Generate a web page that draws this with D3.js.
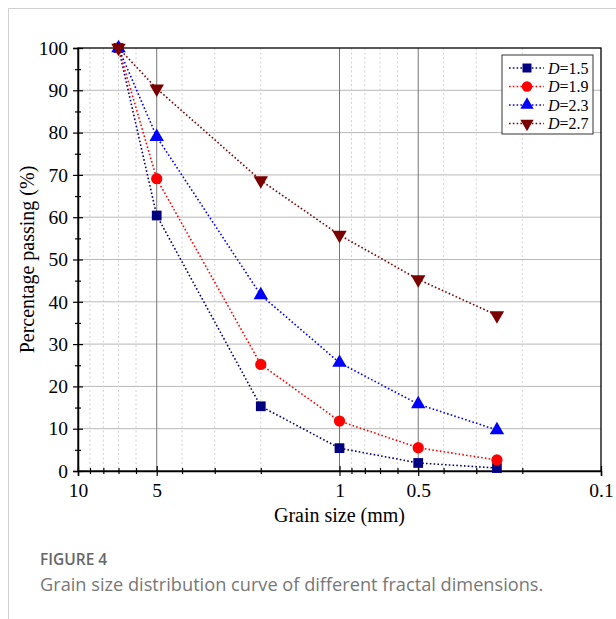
<!DOCTYPE html>
<html>
<head>
<meta charset="utf-8">
<script src="https://cdn.jsdelivr.net/npm/d3@7"></script>
<style>
  body { margin: 0; background: #fff; }
  svg { display: block; }
</style>
</head>
<body>
<svg id="chart" width="616" height="619"></svg>
<script>
// grain sizes (mm) and percentage passing per fractal dimension
var sizes = [7, 5, 2, 1, 0.5, 0.25];
var names = ['D=1.5', 'D=1.9', 'D=2.3', 'D=2.7'];
var pass15 = [100, 60.4, 15.3, 5.4, 1.9, 0.7];
var pass19 = [100, 69.1, 25.2, 11.8, 5.5, 2.6];
var pass23 = [100, 79.0, 41.6, 25.6, 15.8, 9.7];
var pass27 = [100, 90.4, 68.7, 55.8, 45.3, 36.8];
var xTicks = [10, 5, 1, 0.5, 0.1];
var xMinor = [9, 8, 7, 6, 4, 3, 2, 0.9, 0.8, 0.7, 0.6, 0.4, 0.3, 0.2];
var yTicks = [0, 10, 20, 30, 40, 50, 60, 70, 80, 90, 100];

var series = [
  { name: names[0], values: pass15, color: '#000080', symbol: d3.symbolSquare, size: 95, rot: 0 },
  { name: names[1], values: pass19, color: '#ff0000', symbol: d3.symbolCircle, size: 100, rot: 0 },
  { name: names[2], values: pass23, color: '#0000ff', symbol: d3.symbolTriangle, size: 90, rot: 0 },
  { name: names[3], values: pass27, color: '#7a0000', symbol: d3.symbolTriangle, size: 90, rot: 180 }
];

var svg = d3.select('#chart');
var m = { left: 78, right: 601, top: 48, bottom: 471 };
var serif = 'Liberation Serif, Times New Roman, serif';

// page frame lines
svg.append('line').attr('x1', 8.5).attr('x2', 8.5).attr('y1', 8).attr('y2', 619)
  .attr('stroke', '#d0d0d0').attr('stroke-width', 1);
svg.append('line').attr('x1', 8).attr('x2', 616).attr('y1', 8.5).attr('y2', 8.5)
  .attr('stroke', '#d0d0d0').attr('stroke-width', 1);

var x = d3.scaleLog().domain([10, 0.1]).range([m.left, m.right]);
var y = d3.scaleLinear().domain([0, 100]).range([m.bottom, m.top]);

var g = svg.append('g');

// grid
g.selectAll('.gy').data(yTicks.slice(1, -1)).enter().append('line')
  .attr('x1', m.left).attr('x2', m.right)
  .attr('y1', function(d) { return y(d); }).attr('y2', function(d) { return y(d); })
  .attr('stroke', '#b8b8b8').attr('stroke-width', 1);
g.selectAll('.gxm').data(xMinor).enter().append('line')
  .attr('x1', function(d) { return x(d); }).attr('x2', function(d) { return x(d); })
  .attr('y1', m.top).attr('y2', m.bottom)
  .attr('stroke', '#d2d2d2').attr('stroke-width', 1).attr('stroke-dasharray', '2,2.5');
g.selectAll('.gx').data(xTicks.slice(1, -1)).enter().append('line')
  .attr('x1', function(d) { return x(d); }).attr('x2', function(d) { return x(d); })
  .attr('y1', m.top).attr('y2', m.bottom)
  .attr('stroke', '#777').attr('stroke-width', 1);

// frame
g.append('rect').attr('x', m.left).attr('y', m.top)
  .attr('width', m.right - m.left).attr('height', m.bottom - m.top)
  .attr('fill', 'none').attr('stroke', '#000').attr('stroke-width', 1.3);

// axes (ticks cross the axis line)
var xAxis = d3.axisBottom(x).tickValues(xTicks).tickFormat(function(d) { return String(d); })
  .tickSizeOuter(0).tickSize(5).tickPadding(4);
var xa = g.append('g').attr('transform', 'translate(0,' + m.bottom + ')').call(xAxis);
xa.selectAll('.tick line').attr('y1', -5);
var xAxisMinor = d3.axisBottom(x).tickValues(xMinor).tickFormat('').tickSizeOuter(0).tickSize(3);
var xm = g.append('g').attr('transform', 'translate(0,' + m.bottom + ')').call(xAxisMinor);
xm.select('.domain').remove();
xm.selectAll('.tick line').attr('y1', -3);

var yAxis = d3.axisLeft(y).tickValues(yTicks).tickSizeOuter(0).tickSize(5).tickPadding(5);
var ya = g.append('g').attr('transform', 'translate(' + m.left + ',0)').call(yAxis);
ya.selectAll('.tick line').attr('x1', 5);
var yMinor = d3.axisLeft(y).tickValues(d3.range(5, 100, 10)).tickFormat('').tickSizeOuter(0).tickSize(3);
var ym = g.append('g').attr('transform', 'translate(' + m.left + ',0)').call(yMinor);
ym.select('.domain').remove();
ym.selectAll('.tick line').attr('x1', 3);

g.selectAll('.domain').attr('stroke', '#000').attr('stroke-width', 1.5);
g.selectAll('.tick line').attr('stroke', '#000').attr('stroke-width', 1.2);
g.selectAll('.tick text').attr('font-family', serif)
  .attr('font-size', 19.5).attr('fill', '#000');
xa.selectAll('.tick text').attr('dy', '0.85em');

// axis titles
svg.append('text').attr('x', (m.left + m.right) / 2).attr('y', 522)
  .attr('text-anchor', 'middle').attr('font-family', serif)
  .attr('font-size', 20).text('Grain size (mm)');
svg.append('text').attr('transform', 'translate(34,' + ((m.top + m.bottom) / 2) + ') rotate(-90)')
  .attr('text-anchor', 'middle').attr('font-family', serif)
  .attr('font-size', 20).text('Percentage passing (%)');

// lines + markers
var line = d3.line()
  .x(function(d, i) { return x(sizes[i]); })
  .y(function(d) { return y(d); });

series.forEach(function(s) {
  g.append('path').datum(s.values).attr('d', line)
    .attr('fill', 'none').attr('stroke', s.color).attr('stroke-width', 1.6)
    .attr('stroke-dasharray', '1.6,2.2');
});
series.forEach(function(s) {
  g.selectAll(null).data(s.values).enter().append('path')
    .attr('d', d3.symbol().type(s.symbol).size(s.size))
    .attr('transform', function(d, i) {
      return 'translate(' + x(sizes[i]) + ',' + y(d) + ') rotate(' + s.rot + ')';
    })
    .attr('fill', s.color);
});

// legend
var lg = svg.append('g').attr('transform', 'translate(502,55)');
lg.append('rect').attr('width', 91).attr('height', 79)
  .attr('fill', '#fff').attr('stroke', '#333').attr('stroke-width', 1);
series.forEach(function(s, i) {
  var yy = 13 + i * 18.5;
  lg.append('line').attr('x1', 7).attr('x2', 42).attr('y1', yy).attr('y2', yy)
    .attr('stroke', s.color).attr('stroke-width', 1.6).attr('stroke-dasharray', '1.6,2.2');
  lg.append('path').attr('d', d3.symbol().type(s.symbol).size(s.size * 0.85))
    .attr('transform', 'translate(25,' + yy + ') rotate(' + s.rot + ')').attr('fill', s.color);
  var t = lg.append('text').attr('x', 46).attr('y', yy + 5.5)
    .attr('font-family', serif).attr('font-size', 16);
  t.append('tspan').attr('font-style', 'italic').text('D');
  t.append('tspan').text(s.name.slice(1));
});

// caption
svg.append('text').attr('x', 40).attr('y', 565)
  .attr('font-family', 'Open Sans, sans-serif').attr('font-size', 15.5).attr('font-weight', 600)
  .attr('fill', '#666').text('FIGURE 4');
svg.append('text').attr('x', 40).attr('y', 591)
  .attr('font-family', 'Open Sans, sans-serif').attr('font-size', 18.2)
  .attr('fill', '#777').text('Grain size distribution curve of different fractal dimensions.');
</script>
</body>
</html>
